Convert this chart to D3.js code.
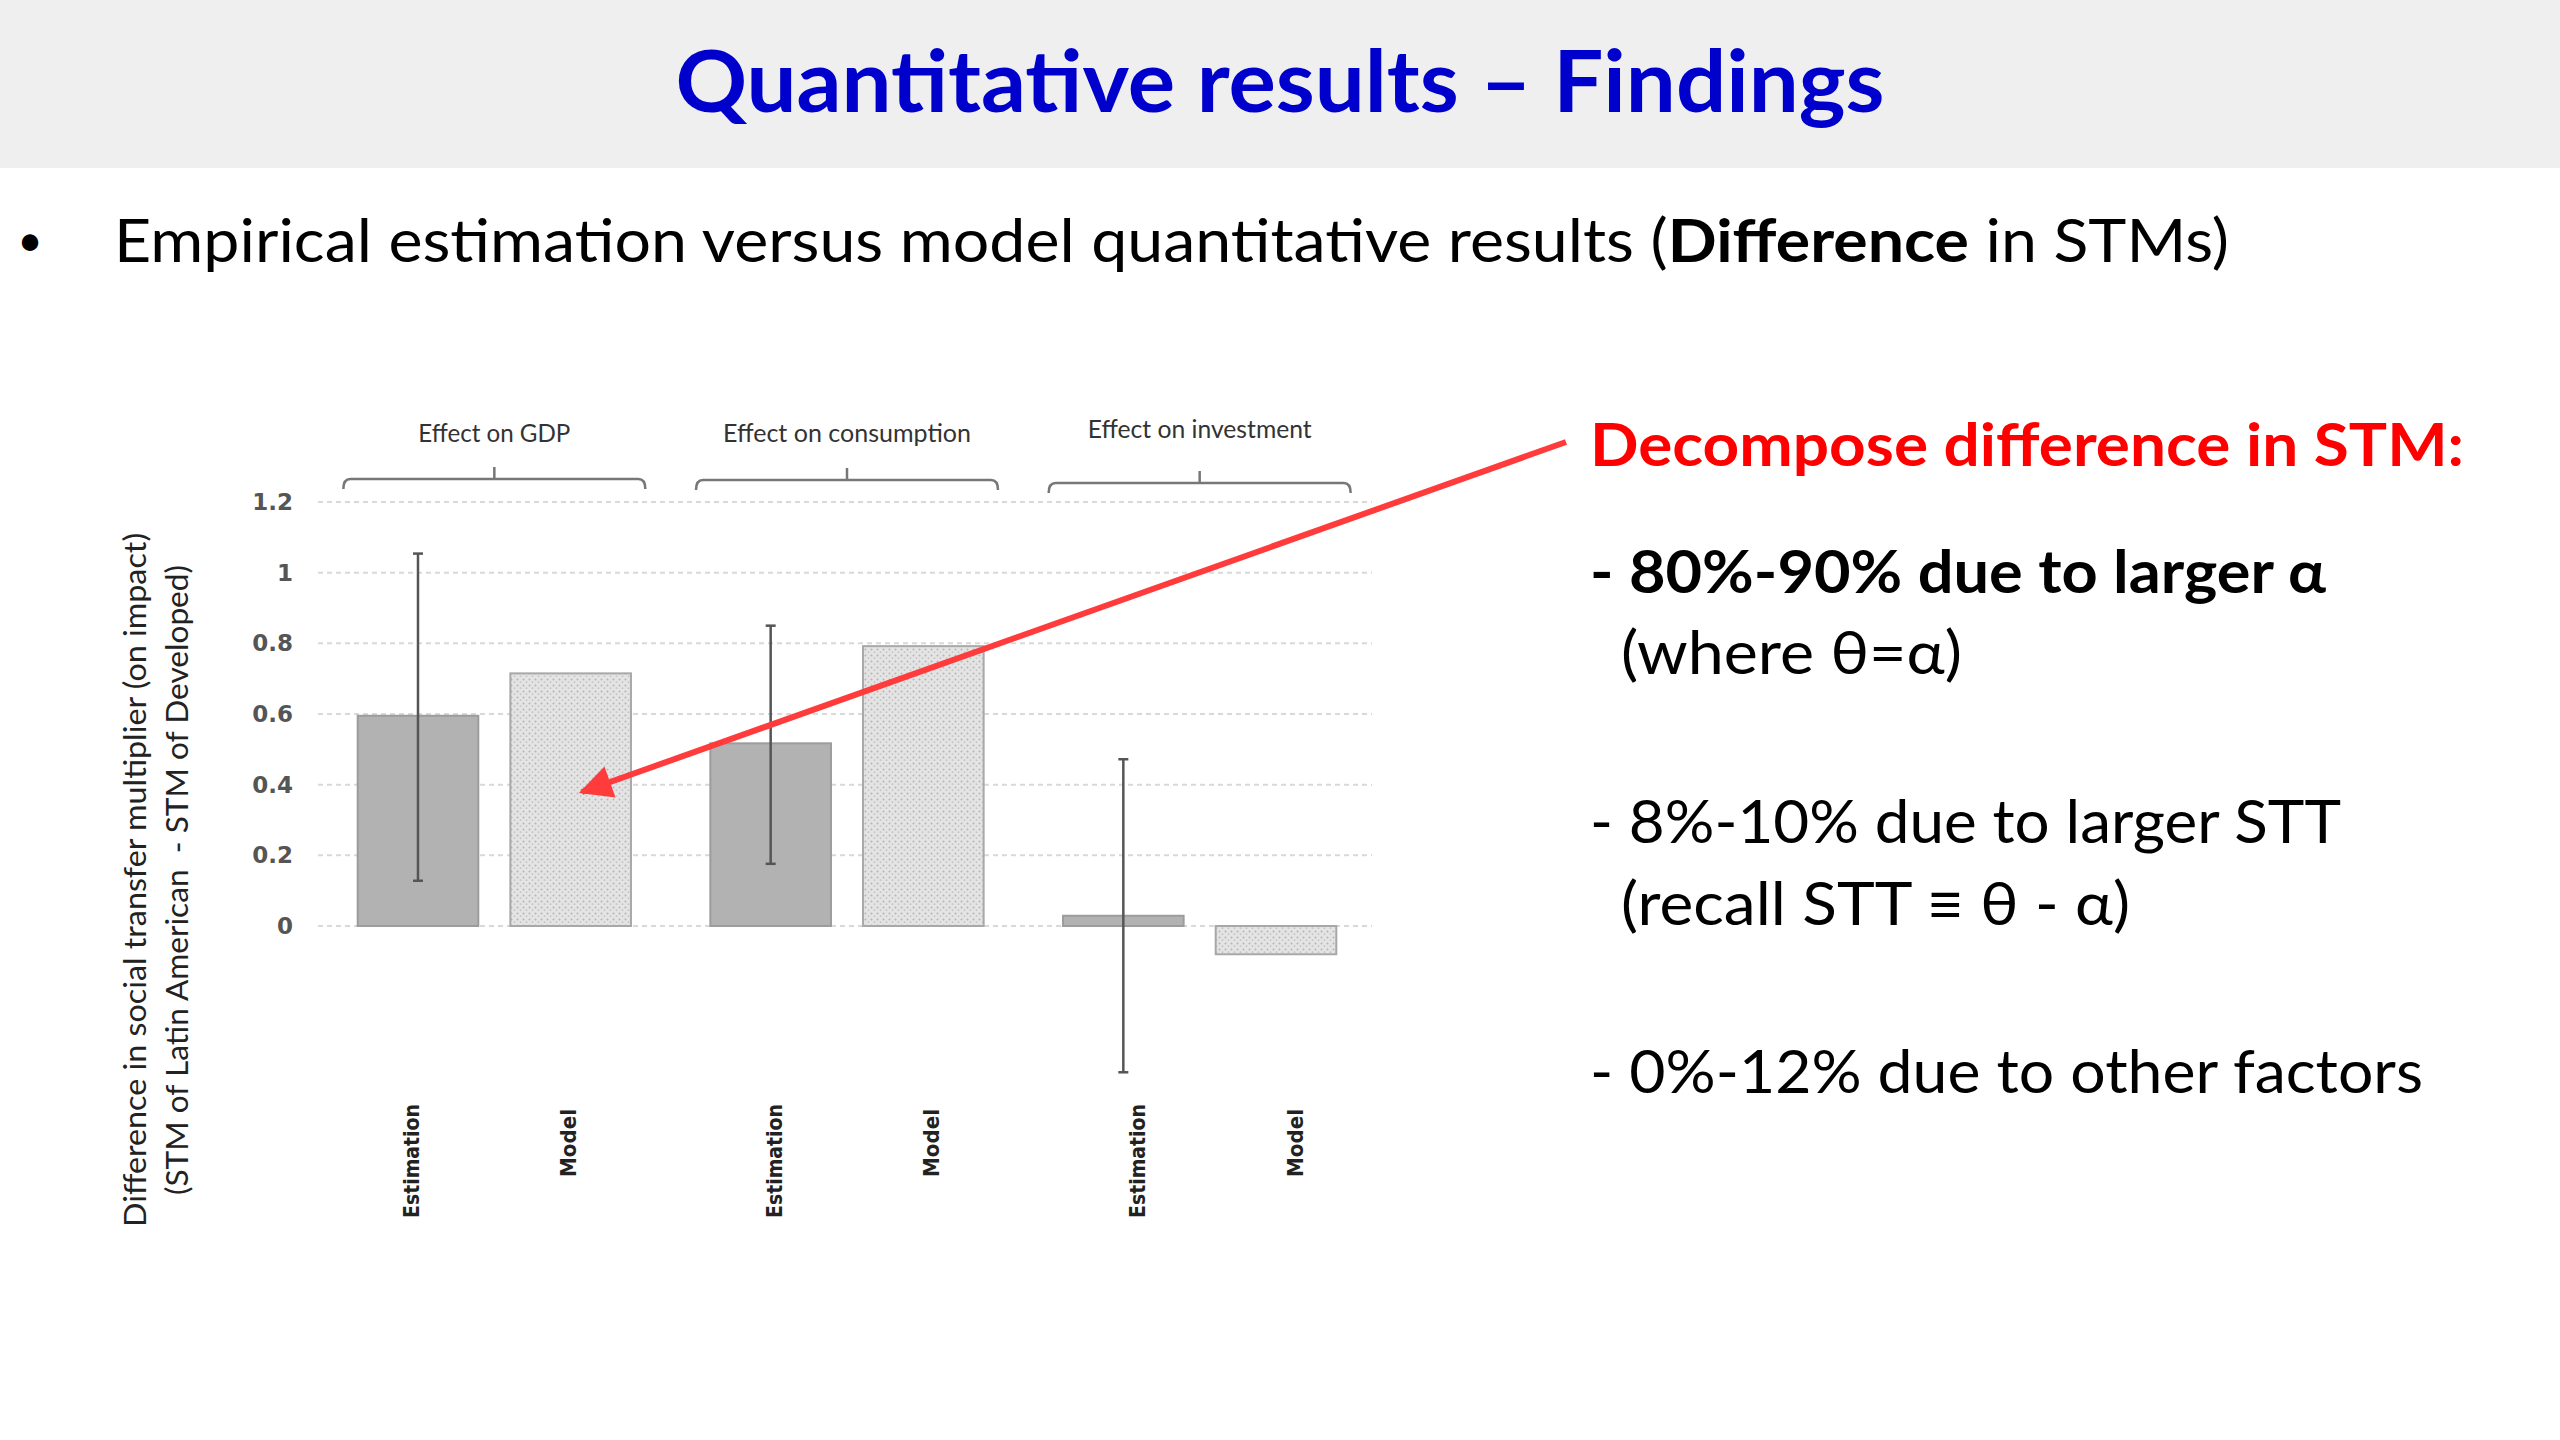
<!doctype html>
<html lang="en">
  <head>
    <meta charset="utf-8">
    <title>Quantitative results – Findings</title>
    <script src="https://d3js.org/d3.v7.min.js"></script>
    <style>
      body {
        margin: 0;
        background: #fff;
      }
      svg {
        display: block;
      }
    </style>
  </head>
  <body>
    <div id="root"></div>
  </body>
  <script>

    //data:
    const groups = ["Effect on GDP", "Effect on consumption", "Effect on investment"];
    const series = ["Estimation", "Model"];
    const estimation = [0.595, 0.517, 0.029];
    const model = [0.715, 0.792, -0.08];
    const errHigh = [1.054, 0.85, 0.472];
    const errLow = [0.128, 0.176, -0.414];
    const yTicks = [0, 0.2, 0.4, 0.6, 0.8, 1, 1.2];

    const notes = [
      {text: "Decompose difference in STM:", x: 1590, y: 466, len: 874, bold: true, color: "#ff0000"},
      {text: "- 80%-90% due to larger \u03b1", x: 1590, y: 593, len: 736, bold: true, color: "#000"},
      {text: "(where \u03b8=\u03b1)", x: 1621, y: 674, len: 341, bold: false, color: "#000"},
      {text: "- 8%-10% due to larger STT", x: 1590, y: 843, len: 751, bold: false, color: "#000"},
      {text: "(recall STT \u2261 \u03b8 - \u03b1)", x: 1621, y: 925, len: 509, bold: false, color: "#000"},
      {text: "- 0%-12% due to other factors", x: 1590, y: 1093, len: 833, bold: false, color: "#000"}
    ];

    const width = 2560;
    const height = 1440;
    const font = "Lato, 'Noto Sans', 'DejaVu Sans', sans-serif";
    const tickFont = "'DejaVu Sans', Verdana, sans-serif";

    //svg:
    const svg = d3.select("#root")
      .append("svg")
      .attr("width", width)
      .attr("height", height);

    const defs = svg.append("defs");
    const pat = defs.append("pattern")
      .attr("id", "dots")
      .attr("width", 6)
      .attr("height", 6)
      .attr("patternUnits", "userSpaceOnUse");
    pat.append("rect").attr("width", 6).attr("height", 6).attr("fill", "#e4e4e4");
    pat.append("circle").attr("cx", 1.5).attr("cy", 1.5).attr("r", 1).attr("fill", "#b4b4b4");
    pat.append("circle").attr("cx", 4.5).attr("cy", 4.2).attr("r", 0.9).attr("fill", "#c2c2c2");

    defs.append("marker")
      .attr("id", "arrowhead")
      .attr("viewBox", "0 0 10 10")
      .attr("refX", 9)
      .attr("refY", 5)
      .attr("markerWidth", 7)
      .attr("markerHeight", 5.5)
      .attr("orient", "auto")
      .attr("markerUnits", "strokeWidth")
      .append("path")
      .attr("d", "M0,0 L10,5 L0,10 z")
      .attr("fill", "#ff3b3b");

    //header band:
    svg.append("rect")
      .attr("x", 0).attr("y", 0)
      .attr("width", width).attr("height", 168)
      .attr("fill", "#efefef");

    svg.append("text")
      .attr("x", 1280)
      .attr("y", 112)
      .attr("text-anchor", "middle")
      .attr("font-family", font)
      .attr("font-weight", "bold")
      .attr("font-size", 86)
      .attr("fill", "#0000cc")
      .attr("textLength", 1209)
      .attr("lengthAdjust", "spacingAndGlyphs")
      .text("Quantitative results \u2013 Findings");

    //bullet line:
    svg.append("text")
      .attr("x", 30)
      .attr("y", 256)
      .attr("text-anchor", "middle")
      .attr("font-family", font)
      .attr("font-size", 44)
      .text("\u2022");

    const bullet = svg.append("text")
      .attr("x", 114)
      .attr("y", 262)
      .attr("font-family", font)
      .attr("font-size", 60)
      .attr("fill", "#000")
      .attr("textLength", 2115)
      .attr("lengthAdjust", "spacingAndGlyphs");
    bullet.append("tspan").text("Empirical estimation versus model quantitative results (");
    bullet.append("tspan").attr("font-weight", "bold").text("Difference");
    bullet.append("tspan").text(" in STMs)");

    //scales:
    const x0 = d3.scaleBand()
      .domain(groups)
      .range([318, 1376]);

    const x1 = d3.scaleBand()
      .domain(series)
      .range([0, x0.bandwidth()])
      .paddingInner(0.21)
      .paddingOuter(0.26);

    const y = d3.scaleLinear()
      .domain([0, 1.2])
      .range([926, 502]);

    //gridlines:
    svg.append("g")
      .selectAll("line")
      .data(yTicks)
      .enter()
      .append("line")
      .attr("x1", 318)
      .attr("x2", 1372)
      .attr("y1", d => y(d))
      .attr("y2", d => y(d))
      .attr("stroke", "#d9d9d9")
      .attr("stroke-width", 2)
      .attr("stroke-dasharray", "5,4");

    //y axis labels:
    const yAxis = svg.append("g")
      .attr("transform", "translate(318,0)")
      .call(d3.axisLeft(y).tickValues(yTicks).tickSize(0).tickPadding(25).tickFormat(d => d));
    yAxis.select(".domain").remove();
    yAxis.selectAll("text")
      .attr("font-family", tickFont)
      .attr("font-weight", "bold")
      .attr("font-size", 23)
      .attr("fill", "#555");

    //y axis title:
    const titleLines = [
      {text: "Difference in social transfer multiplier (on impact)", x: 146, len: 694},
      {text: "(STM of Latin American  - STM of Developed)", x: 188, len: 630}
    ];
    svg.append("g")
      .selectAll("text")
      .data(titleLines)
      .enter()
      .append("text")
      .attr("transform", d => `translate(${d.x},880) rotate(-90)`)
      .attr("text-anchor", "middle")
      .attr("font-family", font)
      .attr("font-size", 30)
      .attr("fill", "#222")
      .attr("textLength", d => d.len)
      .attr("lengthAdjust", "spacingAndGlyphs")
      .style("white-space", "pre")
      .text(d => d.text);

    //group labels and brackets:
    const groupG = svg.append("g")
      .selectAll("g")
      .data(groups)
      .enter()
      .append("g")
      .attr("transform", d => `translate(${x0(d) + x0.bandwidth() / 2},0)`);

    groupG.append("text")
      .attr("y", (d, i) => i === 2 ? 438 : 442)
      .attr("text-anchor", "middle")
      .attr("font-family", font)
      .attr("font-size", 25)
      .attr("fill", "#333")
      .attr("textLength", (d, i) => [152, 248, 224][i])
      .attr("lengthAdjust", "spacingAndGlyphs")
      .text(d => d);

    groupG.append("path")
      .attr("d", (d, i) => {
        const h = [479, 480, 483][i];
        return `M-151,${h + 10} Q-151,${h} -144,${h} L144,${h} Q151,${h} 151,${h + 10}` +
          ` M0,${h} L0,${h - 12}`;
      })
      .attr("fill", "none")
      .attr("stroke", "#777")
      .attr("stroke-width", 2.5);

    //bars:
    const rows = [];
    groups.forEach((g, i) => {
      rows.push({group: g, key: "Estimation", value: estimation[i], hi: errHigh[i], lo: errLow[i]});
      rows.push({group: g, key: "Model", value: model[i]});
    });

    svg.append("g")
      .selectAll("rect")
      .data(rows)
      .enter()
      .append("rect")
      .attr("x", d => x0(d.group) + x1(d.key))
      .attr("y", d => y(Math.max(0, d.value)))
      .attr("width", x1.bandwidth())
      .attr("height", d => Math.abs(y(d.value) - y(0)))
      .attr("fill", d => d.key === "Estimation" ? "#b2b2b2" : "url(#dots)")
      .attr("stroke", d => d.key === "Estimation" ? "#9c9c9c" : "#a8a8a8")
      .attr("stroke-width", 2);

    //error bars:
    const errs = rows.filter(d => d.key === "Estimation");
    const errG = svg.append("g")
      .selectAll("g")
      .data(errs)
      .enter()
      .append("g")
      .attr("transform", d => `translate(${x0(d.group) + x1(d.key) + x1.bandwidth() / 2},0)`);

    errG.append("line")
      .attr("y1", d => y(d.hi))
      .attr("y2", d => y(d.lo))
      .attr("stroke", "#555")
      .attr("stroke-width", 2.5);
    errG.append("line")
      .attr("x1", -5).attr("x2", 5)
      .attr("y1", d => y(d.hi)).attr("y2", d => y(d.hi))
      .attr("stroke", "#555").attr("stroke-width", 2.5);
    errG.append("line")
      .attr("x1", -5).attr("x2", 5)
      .attr("y1", d => y(d.lo)).attr("y2", d => y(d.lo))
      .attr("stroke", "#555").attr("stroke-width", 2.5);

    //category labels (rotated), the label row is a touch wider than the bars
    const labelX = cx => 412 + (cx - 419) * 1.03;
    svg.append("g")
      .selectAll("text")
      .data(rows)
      .enter()
      .append("text")
      .attr("transform", d => {
        const cx = x0(d.group) + x1(d.key) + x1.bandwidth() / 2;
        return `translate(${labelX(cx)},${d.key === "Estimation" ? 1104 : 1109}) rotate(-90)`;
      })
      .attr("dy", "0.36em")
      .attr("text-anchor", "end")
      .attr("font-family", tickFont)
      .attr("font-weight", "bold")
      .attr("font-size", 22)
      .attr("fill", "#222")
      .attr("textLength", d => d.key === "Estimation" ? 114 : 68)
      .attr("lengthAdjust", "spacingAndGlyphs")
      .text(d => d.key);

    //red arrow:
    svg.append("line")
      .attr("x1", 1566)
      .attr("y1", 442)
      .attr("x2", 582)
      .attr("y2", 792)
      .attr("stroke", "#ff3b3b")
      .attr("stroke-width", 6)
      .attr("marker-end", "url(#arrowhead)");

    //notes on the right:
    svg.append("g")
      .selectAll("text")
      .data(notes)
      .enter()
      .append("text")
      .attr("x", d => d.x)
      .attr("y", d => d.y)
      .attr("font-family", font)
      .attr("font-size", 60)
      .attr("font-weight", d => d.bold ? "bold" : "normal")
      .attr("fill", d => d.color)
      .attr("textLength", d => d.len)
      .attr("lengthAdjust", "spacingAndGlyphs")
      .text(d => d.text);

  </script>
</html>
